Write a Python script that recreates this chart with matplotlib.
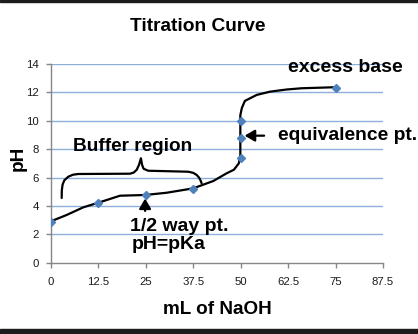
import matplotlib
matplotlib.use("Agg")
import matplotlib.pyplot as plt
from matplotlib.patches import Rectangle

# ---- data ----
vol_naoh = [0, 12.5, 25, 37.5, 50, 50, 50, 75]
ph_vals = [2.9, 4.2, 4.8, 5.2, 7.4, 8.8, 10.0, 12.3]

curve_x = [0.2, 4.1, 8.5, 12.5, 18.2, 24.8, 30.5, 37.5, 42.8, 46.3, 48.2, 49.5, 49.9, 49.9, 50.3, 51.1, 54.2, 57.7, 62.0, 66.0, 74.4]
curve_y = [2.94, 3.36, 3.9, 4.23, 4.72, 4.77, 4.93, 5.24, 5.76, 6.3, 6.55, 7.0, 7.6, 10.4, 10.9, 11.4, 11.82, 12.05, 12.2, 12.29, 12.36]

brace_x = [2.82, 2.85, 3.05, 3.5, 4.56, 5.8, 7.2, 20.8, 21.8, 22.6, 23.2, 23.7, 24.0, 24.4, 25.6, 36.2, 37.5, 38.4, 39.0, 39.4, 39.7]
brace_y = [4.56, 5.1, 5.5, 5.8, 6.06, 6.2, 6.25, 6.27, 6.35, 6.55, 6.9, 7.36, 6.9, 6.62, 6.48, 6.41, 6.33, 6.18, 6.0, 5.8, 5.6]

x_ticks = [0, 12.5, 25, 37.5, 50, 62.5, 75, 87.5]
x_tick_labels = ["0", "12.5", "25", "37.5", "50", "62.5", "75", "87.5"]
y_ticks = [0, 2, 4, 6, 8, 10, 12, 14]

W, H = 418, 334
FONT = "Liberation Sans"

fig = plt.figure(figsize=(W / 100, H / 100), dpi=100)
ax = fig.add_axes([51 / W, 1 - 262.7 / H, (383 - 51) / W, (262.7 - 64) / H])

grid_c = "#8cafdc"
axis_c = "#868686"
for yv in y_ticks[1:]:
    ax.axhline(yv, color=grid_c, lw=1.0, zorder=0)

ax.plot(curve_x, curve_y, color="black", lw=1.6, zorder=3, solid_capstyle="round", solid_joinstyle="round")
ax.plot(brace_x, brace_y, color="black", lw=1.6, zorder=3, solid_capstyle="round", solid_joinstyle="round")
ax.plot(vol_naoh, ph_vals, linestyle="none", marker="D", markersize=4.3,
        color="#4f81bd", zorder=4)

# arrows
ax.annotate("", xy=(24.8, 4.72), xytext=(24.8, 3.45),
            arrowprops=dict(arrowstyle="-|>,head_width=0.35,head_length=0.6",
                            color="black", lw=1.6))
ax.annotate("", xy=(50.3, 8.95), xytext=(56.9, 8.95),
            arrowprops=dict(arrowstyle="-|>,head_width=0.35,head_length=0.6",
                            color="black", lw=1.6))

ax.set_xlim(0, 87.5)
ax.set_ylim(0, 14)
ax.set_xticks(x_ticks)
ax.set_xticklabels(x_tick_labels)
ax.set_yticks(y_ticks)
for s in ["top", "right"]:
    ax.spines[s].set_visible(False)
for s in ["left", "bottom"]:
    ax.spines[s].set_color(axis_c)
    ax.spines[s].set_linewidth(1.0)
ax.tick_params(axis="both", colors=axis_c, length=3.5, width=1.0,
               labelcolor="#1a1a1a", labelsize=8.2)
ax.tick_params(axis="x", pad=7)
ax.tick_params(axis="y", pad=5)
for lab in ax.get_xticklabels() + ax.get_yticklabels():
    lab.set_fontfamily(FONT)

def ftext(px, py, s, size=13.8, ha="left", va="baseline", **kw):
    return fig.text(px / W, 1 - py / H, s, fontsize=size, fontweight="bold",
                    family=FONT, ha=ha, va=va, color="black", **kw)

ftext(198, 31, "Titration Curve", ha="center")
ftext(345.5, 72, "excess base", size=14, ha="center")
ftext(278, 140, "equivalence pt.", size=13.9)
ftext(73, 150.7, "Buffer region", size=13.7)
ftext(130, 231, "1/2 way pt.", size=14)
ftext(132, 249.3, "pH=pKa", size=14)
ftext(217, 314, "mL of NaOH", ha="center", size=13.6)
ftext(18, 158, "pH", ha="center", va="center", rotation=90, size=13.7)

# black borders
fig.patches.append(Rectangle((0, 1 - 1.5 / H), 1, 1.5 / H, transform=fig.transFigure,
                             color="#1c1c1c", zorder=10))
fig.patches.append(Rectangle((0, 0), 1, 5 / H, transform=fig.transFigure,
                             color="#1c1c1c", zorder=10))

fig.savefig("out.png", dpi=100)
